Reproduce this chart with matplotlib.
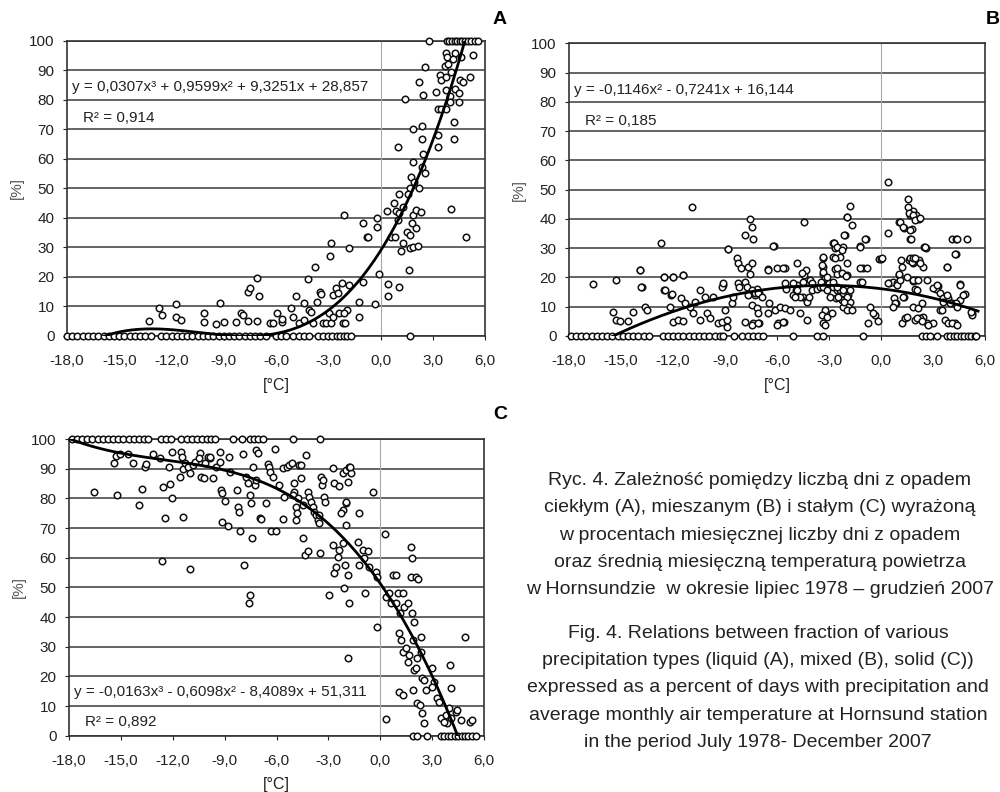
import numpy as np
import matplotlib
matplotlib.use("Agg")
import matplotlib.pyplot as plt

plt.rcParams['font.family'] = ['Liberation Sans', 'DejaVu Sans']

# ---- panel A: liquid precipitation ----
a_zero_temp = [-18.0, -17.7, -17.4, -17.1, -16.8, -16.5, -16.2, -15.9, -15.6, -15.3, -15.0,
               -14.7, -14.4, -14.1, -13.8, -13.5, -13.2, -12.6, -12.3, -12.0, -11.7, -11.4,
               -11.1, -10.8, -10.5, -10.2, -9.9, -9.6, -9.3, -9.0, -8.7, -8.4, -8.1, -7.8,
               -7.5, -7.2, -6.9, -6.6, -6.0, -5.7, -5.4, -5.0, -4.7, -4.4, -4.1, -3.6,
               -3.3, -3.0, -2.8, -2.5, -2.3, -2.1, -1.9, -1.7, 1.7]
a_full_temp = [2.8, 3.8, 3.95, 4.1, 4.25, 4.4, 4.55, 4.7, 4.85, 5.0, 5.2, 5.4, 5.6]
a_points = [
    (-13.3, 5.1), (-12.7, 9.4), (-12.55, 7.1), (-11.74, 10.7), (-11.74, 6.5), (-11.45, 5.4),
    (-10.15, 7.9), (-10.15, 4.6), (-9.44, 4.0), (-9.0, 4.6), (-9.2, 11.3), (-8.3, 4.6),
    (-8.0, 7.9), (-7.9, 7.1), (-7.6, 5.1), (-7.1, 5.1), (-7.6, 15.0), (-7.5, 16.2),
    (-6.95, 13.6), (-7.1, 19.6), (-6.34, 4.5), (-6.19, 4.5), (-5.65, 4.8), (-5.96, 7.9),
    (-5.65, 5.7), (-5.13, 9.4), (-5.04, 6.5), (-4.84, 13.6), (-4.66, 4.5), (-4.37, 5.4),
    (-4.37, 11.3), (-4.18, 19.2), (-4.12, 8.8), (-3.98, 8.2), (-3.89, 4.5), (-3.74, 23.3),
    (-3.64, 11.6), (-3.5, 15.0), (-3.41, 14.2), (-3.32, 4.5), (-3.12, 4.5), (-2.97, 7.7),
    (-2.83, 4.5), (-2.74, 6.5), (-2.7, 13.9), (-2.55, 16.2), (-2.45, 14.5), (-2.36, 7.9),
    (-2.2, 17.9), (-2.16, 4.5), (-2.01, 4.5), (-1.94, 8.8), (-1.78, 17.3), (-2.07, 7.7),
    (-2.83, 31.6), (-2.89, 27.1), (-1.82, 29.7), (-2.1, 41.0), (-1.25, 11.6), (-1.25, 6.5),
    (-0.98, 18.4), (-0.34, 10.7), (-0.1, 21.0), (0.42, 17.6), (0.42, 13.6), (1.05, 16.7),
    (1.63, 22.4), (-1.0, 38.4), (-0.79, 33.4), (-0.2, 39.9), (-0.2, 36.8), (-0.7, 33.4),
    (0.61, 33.4), (0.86, 33.4), (0.36, 42.5), (0.77, 45.0), (0.9, 42.5), (1.09, 41.6),
    (1.29, 43.8), (1.0, 39.3), (1.86, 41.0), (2.05, 42.7), (2.34, 42.0), (4.06, 43.0),
    (2.05, 36.5), (1.82, 38.2), (1.51, 35.4), (1.67, 34.2), (1.29, 31.4), (1.19, 28.9),
    (1.67, 29.7), (1.86, 30.0), (2.14, 30.5), (4.92, 33.4), (1.03, 64.2),
    (2.43, 61.7), (1.86, 58.9), (2.4, 57.4), (2.53, 55.4), (2.2, 50.3), (1.76, 54.0),
    (1.95, 52.3), (1.67, 50.3), (1.57, 48.0), (1.09, 48.1),
    (1.87, 70.0), (2.36, 71.3), (2.4, 66.7), (3.3, 68.1), (3.3, 64.2), (4.2, 72.4), (4.2, 66.7),
    (3.3, 76.9), (3.5, 76.9), (3.75, 76.9),
    (1.38, 80.2), (2.43, 81.6), (2.2, 86.1), (2.53, 91.3),
    (3.39, 88.5), (3.48, 86.8), (3.77, 87.9), (4.06, 89.5), (3.68, 91.5), (3.87, 92.2),
    (3.2, 82.8), (3.77, 83.4), (4.25, 83.6), (4.5, 82.5), (4.0, 81.2), (4.5, 79.3), (4.0, 79.3),
    (4.54, 86.8), (4.74, 86.2), (5.16, 87.9),
    (3.77, 96.0), (4.25, 96.0), (3.81, 94.7), (4.16, 93.9), (4.64, 94.5), (5.3, 95.1),
]
a_coef = [0.0307, 0.9599, 9.3251, 28.857]
a_eq = "y = 0,0307x³ + 0,9599x² + 9,3251x + 28,857"
a_r2 = "R² = 0,914"

# ---- panel B: mixed precipitation ----
b_zero_temp = [-17.9, -17.6, -17.3, -17.0, -16.7, -16.4, -16.1, -15.8, -15.5, -15.2, -14.9,
               -14.6, -14.3, -14.0, -13.7, -13.4, -12.6, -12.3, -12.0, -11.7, -11.4, -11.1,
               -10.8, -10.5, -10.2, -9.9, -9.6, -9.3, -9.1, -8.5, -8.0, -7.7, -7.4, -7.1,
               -6.8, -5.06, -3.71, -3.33, -1.02, 2.35, 2.6, 2.83, 3.22, 3.8, 4.0, 4.2, 4.4,
               4.6, 4.8, 5.0, 5.2, 5.4, 5.5]
b_points = [
    (-16.6, 17.7), (-15.3, 19.1), (-13.9, 22.5), (-13.8, 16.6), (-12.7, 31.7), (-10.9, 44.0),
    (-12.5, 20.0), (-12.0, 20.0), (-11.45, 20.8), (-12.5, 15.7), (-12.1, 14.0), (-8.8, 29.7),
    (-7.56, 40.0), (-7.47, 37.1), (-7.37, 33.1), (-7.85, 34.5), (-6.2, 30.7), (-4.45, 39.0),
    (-1.79, 44.4), (-1.98, 40.8), (-1.69, 37.9), (-2.08, 34.5), (-1.21, 30.7), (-0.87, 33.0),
    (-2.7, 31.7), (-2.18, 30.5), (-2.37, 27.1), (0.42, 52.7), (0.42, 35.1), (1.58, 46.8),
    (1.83, 42.7), (2.02, 41.3), (1.67, 41.3), (2.21, 40.0), (1.06, 39.0), (1.33, 37.0),
    (1.77, 36.4), (1.67, 33.1), (2.48, 30.5), (2.6, 30.0), (4.08, 33.1), (4.33, 33.1),
    (4.95, 33.1), (4.33, 27.9), (3.83, 23.5), (4.56, 17.7), (-0.1, 26.3), (0.0, 26.3),
    (1.64, 26.0), (1.86, 24.8), (2.21, 26.0), (2.44, 23.7), (1.19, 23.7), (1.06, 20.8),
    (0.48, 18.2), (0.71, 18.6), (0.94, 18.0), (1.83, 18.9), (2.02, 19.1), (2.64, 19.1),
    (1.96, 16.0), (3.31, 17.1), (3.18, 16.0), (3.6, 12.3), (3.89, 13.1), (4.85, 14.2),
    (4.56, 12.3), (4.08, 11.2), (4.33, 11.2), (5.24, 8.0), (0.87, 11.2), (0.75, 12.9),
    (1.35, 13.4),
    (-9.14, 17.4), (-9.2, 16.6), (-8.24, 18.0), (-8.18, 16.6), (-8.33, 26.5), (-8.24, 24.8),
    (-8.1, 23.1), (-7.66, 23.7), (-7.47, 24.8), (-7.56, 21.2), (-7.18, 16.0), (-7.03, 14.6),
    (-7.37, 15.1), (-7.27, 14.0), (-6.51, 22.8), (-6.02, 23.1), (-5.54, 23.1), (-4.83, 24.8),
    (-4.45, 20.8), (-4.33, 22.5), (-4.52, 18.6), (-4.1, 19.1), (-4.0, 18.0), (-3.42, 18.6),
    (-3.37, 26.5), (-3.37, 23.7), (-3.33, 21.2), (-3.23, 19.7), (-2.75, 31.7), (-2.66, 30.0),
    (-2.75, 26.9), (-2.66, 22.8), (-2.56, 21.2), (-1.98, 24.8), (-1.98, 20.8), (-1.21, 18.6),
    (-1.06, 23.1), (-0.83, 23.1),
    (-5.54, 18.0), (-5.48, 16.0), (-5.06, 14.0), (-4.9, 15.7), (-4.83, 17.4), (-4.48, 13.4),
    (-4.29, 12.3), (-4.0, 15.7), (-3.71, 16.0), (-3.52, 16.8), (-2.98, 18.0), (-2.75, 16.8),
    (-2.56, 15.7), (-2.37, 15.7), (-2.18, 14.6), (-1.89, 14.0), (-2.27, 12.3), (-2.6, 12.9),
    (-1.79, 11.7), (-1.89, 10.0), (-2.18, 10.0),
    (-15.45, 8.3), (-15.3, 5.5), (-15.07, 5.2), (-14.59, 5.2), (-14.3, 8.3), (-13.82, 16.6),
    (-13.91, 22.5), (-13.63, 10.0), (-13.49, 8.9),
    (-12.53, 20.0), (-11.99, 20.0), (-11.41, 20.8), (-12.47, 15.7), (-12.08, 14.3),
    (-12.18, 10.0), (-11.99, 4.9), (-11.7, 5.5), (-11.41, 5.2), (-11.51, 12.9), (-11.32, 11.1),
    (-11.03, 10.0), (-10.87, 7.8), (-10.74, 11.7), (-10.45, 15.7), (-10.45, 5.5), (-10.06, 7.8),
    (-9.87, 6.0), (-10.16, 13.4), (-9.68, 13.4),
    (-9.39, 4.3), (-9.2, 4.9), (-8.91, 5.5), (-9.0, 8.9), (-9.1, 18.2), (-8.82, 29.6),
    (-8.62, 11.1), (-8.53, 13.4),
    (-7.85, 18.6), (-7.75, 16.8), (-7.47, 15.7), (-7.27, 14.6), (-7.08, 14.6), (-6.89, 13.4),
    (-7.47, 10.6), (-7.18, 9.5), (-7.08, 7.8), (-7.85, 4.9), (-7.37, 4.3), (-7.03, 4.5),
    (-7.66, 14.0),
    (-6.51, 22.5), (-5.68, 23.1), (-6.22, 30.7), (-4.58, 21.4), (-5.06, 18.0), (-4.87, 15.7),
    (-4.68, 13.4), (-4.29, 11.7), (-4.14, 13.4), (-6.45, 11.2), (-6.51, 7.8), (-6.12, 8.9),
    (-5.83, 10.0), (-5.54, 9.5), (-5.25, 8.9), (-4.97, 13.4), (-4.68, 7.8), (-4.29, 5.5),
    (-5.92, 4.3), (-5.6, 4.9),
    (-3.33, 27.1), (-3.42, 24.3), (-3.33, 22.0), (-3.14, 20.3), (-3.48, 18.6), (-3.33, 16.8),
    (-3.14, 15.7), (-2.71, 31.9), (-2.56, 30.5), (-2.27, 29.4), (-2.66, 26.5), (-2.56, 23.1),
    (-2.27, 21.4), (-2.02, 20.5), (-2.75, 18.6), (-2.56, 16.8), (-2.18, 15.7), (-1.98, 13.4),
    (-1.79, 15.7), (-1.98, 8.9), (-1.69, 8.9), (-2.14, 11.7), (-2.46, 13.4), (-2.94, 13.4),
    (-3.23, 8.9), (-3.42, 7.2), (-3.14, 6.6), (-2.85, 7.8), (-3.33, 4.3), (-2.14, 34.5),
    (-1.94, 40.8), (-1.21, 30.5), (-0.92, 33.0), (-1.21, 23.1), (-1.12, 18.6), (-0.64, 10.0),
    (-0.35, 7.2), (-0.16, 5.2), (-0.73, 4.3), (0.04, 26.5),
    (0.42, 18.0), (0.9, 17.4), (1.1, 19.1), (1.06, 21.2), (1.14, 26.0), (1.29, 13.4),
    (0.81, 11.2), (0.71, 10.0), (1.48, 20.3), (1.67, 26.5), (1.77, 25.4), (1.87, 26.5),
    (1.96, 26.5), (2.25, 24.8), (1.87, 19.1), (2.15, 19.1), (2.06, 15.7), (1.87, 10.0),
    (2.15, 9.5), (2.35, 11.2), (1.96, 5.5), (2.44, 6.6), (3.02, 16.3), (3.22, 17.4),
    (3.41, 14.6), (3.6, 12.9), (3.79, 14.0), (3.98, 11.2), (4.56, 17.4), (4.75, 14.0),
    (3.79, 23.7), (4.27, 28.0), (4.37, 33.0), (2.54, 30.5), (2.64, 4.3), (3.02, 4.3),
    (3.41, 8.9), (3.7, 5.5), (3.89, 4.3), (4.27, 4.3), (4.37, 10.0), (5.24, 7.2), (1.19, 4.3),
    (1.39, 6.0), (2.25, 6.0), (1.67, 36.2), (1.71, 33.0), (1.1, 39.0), (1.29, 37.3),
    (1.58, 44.2), (1.63, 41.9), (1.87, 41.3), (1.96, 39.6), (2.25, 40.2), (3.6, 11.7),
    (3.5, 8.9),
    (-8.91, 3.2), (-7.47, 3.8), (-7.08, 4.3), (-6.02, 3.8), (-5.64, 4.7), (-3.23, 3.8),
    (-0.44, 7.8), (1.48, 6.6), (2.06, 6.0), (2.35, 5.1), (2.73, 3.8), (4.08, 4.3),
    (4.37, 3.8), (5.18, 8.3),
]
b_coef = [-0.1146, -0.7241, 16.144]
b_eq = "y = -0,1146x² - 0,7241x + 16,144"
b_r2 = "R² = 0,185"

# ---- panel C: solid precipitation ----
c_full_temp = [-17.85, -17.55, -17.25, -16.95, -16.65, -16.35, -16.05, -15.75, -15.45, -15.15,
               -14.85, -14.55, -14.25, -13.95, -13.65, -13.43, -12.66, -12.4, -12.08, -11.5,
               -11.2, -10.9, -10.6, -10.3, -10.0, -9.8, -9.58, -8.52, -7.98, -7.56, -7.3,
               -7.05, -6.79, -5.06, -3.46]
c_zero_temp = [1.87, 2.15, 2.73, 3.5, 3.7, 3.9, 4.1, 4.3, 4.5, 4.7, 4.9, 5.1, 5.3, 5.52]
c_points = [
    (-16.56, 82.2), (-15.25, 81.1), (-15.4, 91.8), (-15.29, 94.3), (-15.06, 94.9),
    (-14.58, 94.9), (-14.29, 91.8), (-13.75, 83.0), (-13.94, 77.8), (-13.58, 90.7),
    (-13.52, 91.6), (-13.17, 94.9), (-12.75, 93.5), (-12.62, 59.0), (-12.56, 83.9),
    (-12.18, 84.8), (-12.02, 80.0), (-12.46, 73.3),
    (-12.21, 90.5), (-12.02, 95.7), (-11.5, 95.7), (-11.44, 94.0), (-11.6, 87.3), (-11.4, 89.8),
    (-11.31, 92.0), (-11.12, 90.7), (-10.98, 88.4), (-10.83, 91.2), (-10.73, 92.3),
    (-10.44, 95.2), (-10.48, 93.5), (-11.4, 73.8), (-10.98, 56.1),
    (-10.35, 87.3), (-10.21, 86.7), (-10.16, 91.8), (-9.96, 94.0), (-9.87, 93.5), (-9.68, 86.7),
    (-9.83, 94.0), (-9.48, 90.7), (-9.29, 92.3),
    (-9.25, 95.7), (-9.19, 82.8), (-9.13, 81.9), (-9.0, 79.2), (-9.13, 72.1), (-8.81, 70.7),
    (-8.71, 89.0), (-8.75, 94.0), (-8.29, 82.8), (-8.23, 77.2), (-8.17, 75.5),
    (-8.1, 69.1), (-7.95, 94.9), (-7.75, 87.3), (-7.66, 85.1), (-7.56, 81.1), (-7.46, 78.3),
    (-7.43, 66.5), (-7.37, 90.7), (-7.27, 84.5), (-7.17, 86.2), (-7.17, 96.3), (-7.08, 95.2),
    (-7.9, 57.5), (-7.52, 47.4), (-7.6, 44.8),
    (-6.98, 73.3), (-6.88, 72.9), (-6.6, 78.3), (-6.5, 91.6), (-6.44, 90.7), (-6.37, 89.0),
    (-6.31, 69.1), (-6.02, 69.1), (-6.21, 87.3), (-6.06, 96.5), (-5.83, 84.5), (-5.64, 90.1),
    (-5.64, 72.9), (-5.54, 80.5),
    (-5.41, 90.7), (-5.25, 91.2), (-5.1, 91.8), (-4.96, 85.1), (-4.96, 82.2), (-4.9, 77.2),
    (-4.83, 75.0), (-4.86, 72.7), (-5.06, 81.1), (-4.77, 80.0), (-4.67, 91.2), (-4.58, 91.2),
    (-4.29, 94.6), (-4.58, 86.7), (-4.48, 77.8), (-4.44, 66.5), (-4.33, 60.9), (-4.19, 62.4),
    (-4.19, 82.2), (-4.1, 80.5), (-4.0, 78.9), (-3.9, 77.2), (-3.81, 75.5), (-3.71, 74.4),
    (-3.62, 72.7), (-3.52, 74.4), (-3.48, 61.7), (-3.42, 87.3), (-3.36, 84.5), (-3.33, 86.2),
    (-3.23, 80.5), (-3.17, 78.9), (-3.52, 71.6),
    (-2.94, 47.4), (-2.75, 64.2), (-2.65, 54.7), (-2.56, 57.0), (-2.46, 60.3), (-2.75, 90.1),
    (-2.65, 85.1), (-2.37, 84.2), (-2.18, 88.4), (-2.18, 76.1), (-1.98, 89.6), (-1.98, 71.0),
    (-1.89, 85.6), (-1.79, 90.7), (-1.98, 78.3), (-2.37, 62.6), (-2.08, 49.7), (-1.89, 54.2),
    (-1.83, 44.8), (-1.69, 88.4), (-2.27, 75.0), (-2.18, 64.8), (-2.02, 57.5), (-1.98, 78.9),
    (-1.89, 26.1), (-1.75, 90.7),
    (-1.31, 65.4), (-1.25, 75.0), (-1.21, 57.5), (-1.02, 62.6), (-0.92, 59.8), (-0.87, 48.2),
    (-0.73, 62.4), (-0.63, 57.0), (-0.44, 82.2), (-0.25, 55.3), (-0.16, 53.6), (-0.16, 36.7),
    (0.29, 68.0), (0.33, 5.5),
    (0.33, 46.8), (0.52, 48.0), (0.62, 44.6), (0.71, 54.2), (0.91, 54.2), (0.91, 44.6),
    (1.0, 48.2), (1.14, 41.3), (1.29, 48.0), (1.38, 43.5), (1.58, 44.6), (1.77, 63.7),
    (1.83, 59.8), (1.77, 53.6), (2.06, 53.6), (2.21, 52.7), (1.86, 41.3), (1.96, 38.4),
    (1.1, 34.7), (1.19, 32.3), (1.29, 28.3),
    (1.48, 29.5), (1.58, 24.9), (1.67, 27.2), (1.87, 32.3), (1.96, 22.1), (2.06, 22.7),
    (2.15, 26.1), (2.35, 33.4), (2.35, 28.3), (2.44, 19.3), (2.54, 18.8), (1.1, 14.8),
    (1.29, 13.7), (1.87, 15.4), (2.15, 10.9), (2.29, 10.3), (2.4, 7.5), (2.54, 4.2),
    (2.64, 15.4),
    (3.02, 22.7), (3.12, 18.2), (3.02, 16.5), (3.31, 12.6), (3.4, 11.5), (3.5, 5.9),
    (3.79, 7.0), (3.88, 4.2), (3.69, 4.7), (3.98, 9.2), (4.08, 5.9), (4.02, 23.8),
    (4.08, 16.0), (4.37, 8.1), (4.46, 8.7), (4.66, 5.3), (4.9, 33.4), (5.18, 4.7), (5.29, 5.3),
]
c_coef = [-0.0163, -0.6098, -8.4089, 51.311]
c_eq = "y = -0,0163x³ - 0,6098x² - 8,4089x + 51,311"
c_r2 = "R² = 0,892"

x_ticks = [-18, -15, -12, -9, -6, -3, 0, 3, 6]
y_ticks = list(range(0, 101, 10))

caption_pl = ("Ryc. 4. Zależność pomiędzy liczbą dni z opadem\n"
              "ciekłym (A), mieszanym (B) i stałym (C) wyrażoną\n"
              "w procentach miesięcznej liczby dni z opadem\n"
              "oraz średnią miesięczną temperaturą powietrza\n"
              "w Hornsundzie  w okresie lipiec 1978 – grudzień 2007")
caption_en = ("Fig. 4. Relations between fraction of various\n"
              "precipitation types (liquid (A), mixed (B), solid (C))\n"
              "expressed as a percent of days with precipitation and\n"
              "average monthly air temperature at Hornsund station\n"
              "in the period July 1978- December 2007")

TXT = '#222222'


def draw_panel(ax, points, zeros, fulls, coef, eq, r2, eq_y, r2_y):
    ax.set_xlim(-18, 6)
    ax.set_ylim(0, 100)
    # horizontal grid + zero line
    for yv in y_ticks:
        ax.axhline(yv, color='#3a3a3a', lw=1.1, zorder=1)
    ax.axvline(0, color='#a8a8a8', lw=0.8, zorder=1)

    xs = [p[0] for p in points] + list(zeros) + list(fulls)
    ys = [p[1] for p in points] + [0] * len(zeros) + [100] * len(fulls)
    ax.scatter(xs, ys, s=22, facecolors='white', edgecolors='#111111',
               linewidths=1.1, zorder=3, clip_on=False)

    xt = np.linspace(-18, 5.6, 400)
    ax.plot(xt, np.polyval(coef, xt), color='black', lw=2.0, zorder=4)

    ax.text(-17.7, eq_y, eq, fontsize=11, color=TXT, va='center', ha='left', zorder=5)
    ax.text(-17.1, r2_y, r2, fontsize=11, color=TXT, va='center', ha='left', zorder=5)

    ax.set_xticks(x_ticks)
    ax.set_xticklabels([f"{v:.1f}".replace('.', ',') for v in x_ticks])
    ax.set_yticks(y_ticks)
    ax.tick_params(axis='both', labelsize=11, colors=TXT, length=3, width=0.8)
    ax.tick_params(axis='x', pad=10)
    ax.tick_params(axis='y', pad=6)
    ax.set_xlabel('[°C]', fontsize=11.5, color=TXT, labelpad=7)
    ax.set_ylabel('[%]', fontsize=11, color='#555555', labelpad=4)
    for sp in ax.spines.values():
        sp.set_color('#333333')
        sp.set_linewidth(1.2)


fig = plt.figure(figsize=(10, 7.92), dpi=100)
ax_a = fig.add_axes([0.067, 0.5758, 0.418, 0.3725])
ax_b = fig.add_axes([0.569, 0.5758, 0.416, 0.3696])
ax_c = fig.add_axes([0.069, 0.0711, 0.415, 0.3746])

draw_panel(ax_a, a_points, a_zero_temp, a_full_temp, a_coef, a_eq, a_r2, 84.5, 74.0)
draw_panel(ax_b, b_points, b_zero_temp, [], b_coef, b_eq, b_r2, 84.0, 73.5)
draw_panel(ax_c, c_points, c_zero_temp, c_full_temp, c_coef, c_eq, c_r2, 14.7, 4.6)

fig.text(0.500, 0.975, 'A', fontsize=14, fontweight='bold', ha='center', va='center')
fig.text(0.993, 0.975, 'B', fontsize=14, fontweight='bold', ha='center', va='center')
fig.text(0.500, 0.477, 'C', fontsize=14, fontweight='bold', ha='center', va='center')

fig.text(0.760, 1 - 535 / 792, caption_pl, fontsize=14, color=TXT,
         ha='center', va='center', multialignment='center', linespacing=1.78)
fig.text(0.758, 1 - 688 / 792, caption_en, fontsize=14, color=TXT,
         ha='center', va='center', multialignment='center', linespacing=1.78)

fig.savefig('out.png', dpi=100)
